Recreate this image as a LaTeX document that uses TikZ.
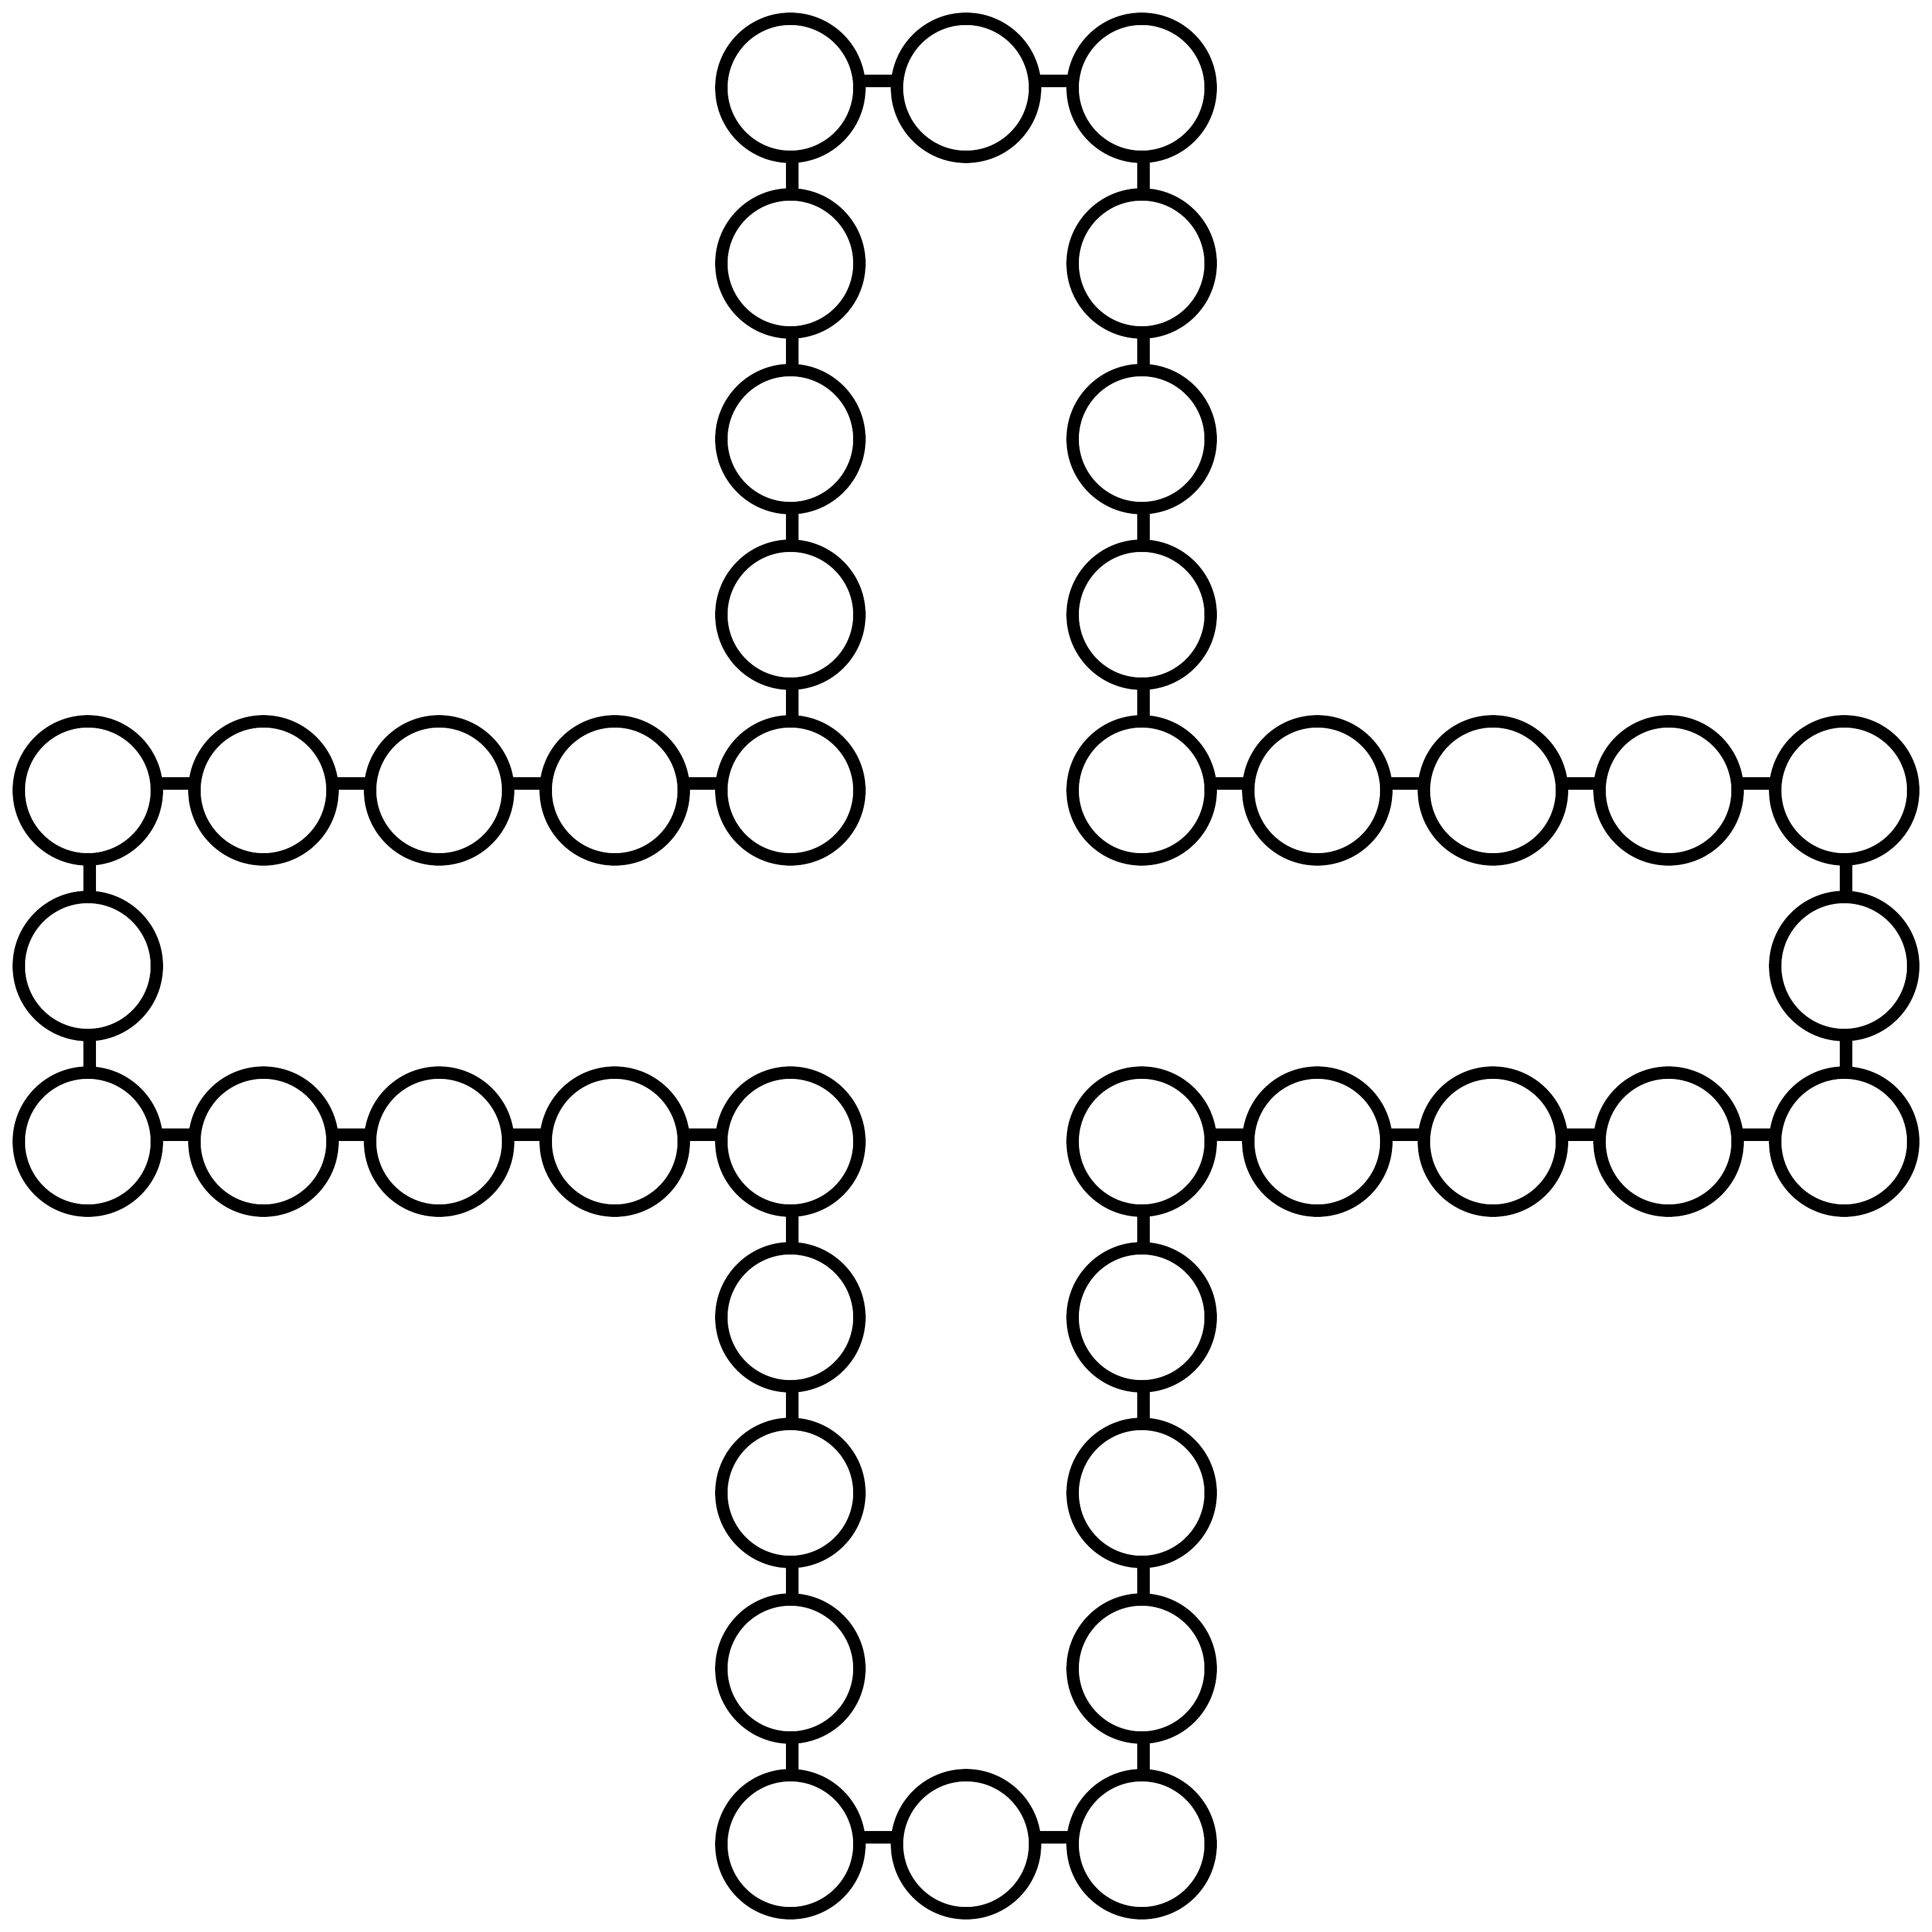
\documentclass[tikz,border=0pt]{standalone}
\usepackage{tikz}

\begin{document}
\begin{tikzpicture}[line width=2pt,
    bead/.style={draw, circle, minimum size=7.86mm, inner sep=0pt, outer sep=0pt},
    hlink/.style={transform canvas={yshift=0.4mm}},
    vlink/.style={transform canvas={xshift=0.1mm}}]
  \useasboundingbox (-0.5,0.5) rectangle (10.5,-10.5);
  % beads of the cross
  \foreach \j in {4,6} \foreach \i in {0,...,4,6,7,8,9,10}
    \node[bead] (b-\i-\j) at (\i,-\j) {};
  \foreach \j in {0,10} \foreach \i in {4,5,6}
    \node[bead] (b-\i-\j) at (\i,-\j) {};
  \foreach \i in {4,6} \foreach \j in {1,2,3,7,8,9}
    \node[bead] (b-\i-\j) at (\i,-\j) {};
  \foreach \i in {0,10}
    \node[bead] (b-\i-5) at (\i,-5) {};
  % links: rows and columns
  \foreach \k in {4,6} {
    \foreach \m [evaluate=\m as \n using int(\m+1)] in {0,1,2,3,6,7,8,9} {
      \draw[hlink] (b-\m-\k.east) -- (b-\n-\k.west);
      \draw[vlink] (b-\k-\m.south) -- (b-\k-\n.north);
    }
  }
  \foreach \k in {0,10} {
    \foreach \m [evaluate=\m as \n using int(\m+1)] in {4,5} {
      \draw[hlink] (b-\m-\k.east) -- (b-\n-\k.west);
      \draw[vlink] (b-\k-\m.south) -- (b-\k-\n.north);
    }
  }
\end{tikzpicture}
\end{document}
